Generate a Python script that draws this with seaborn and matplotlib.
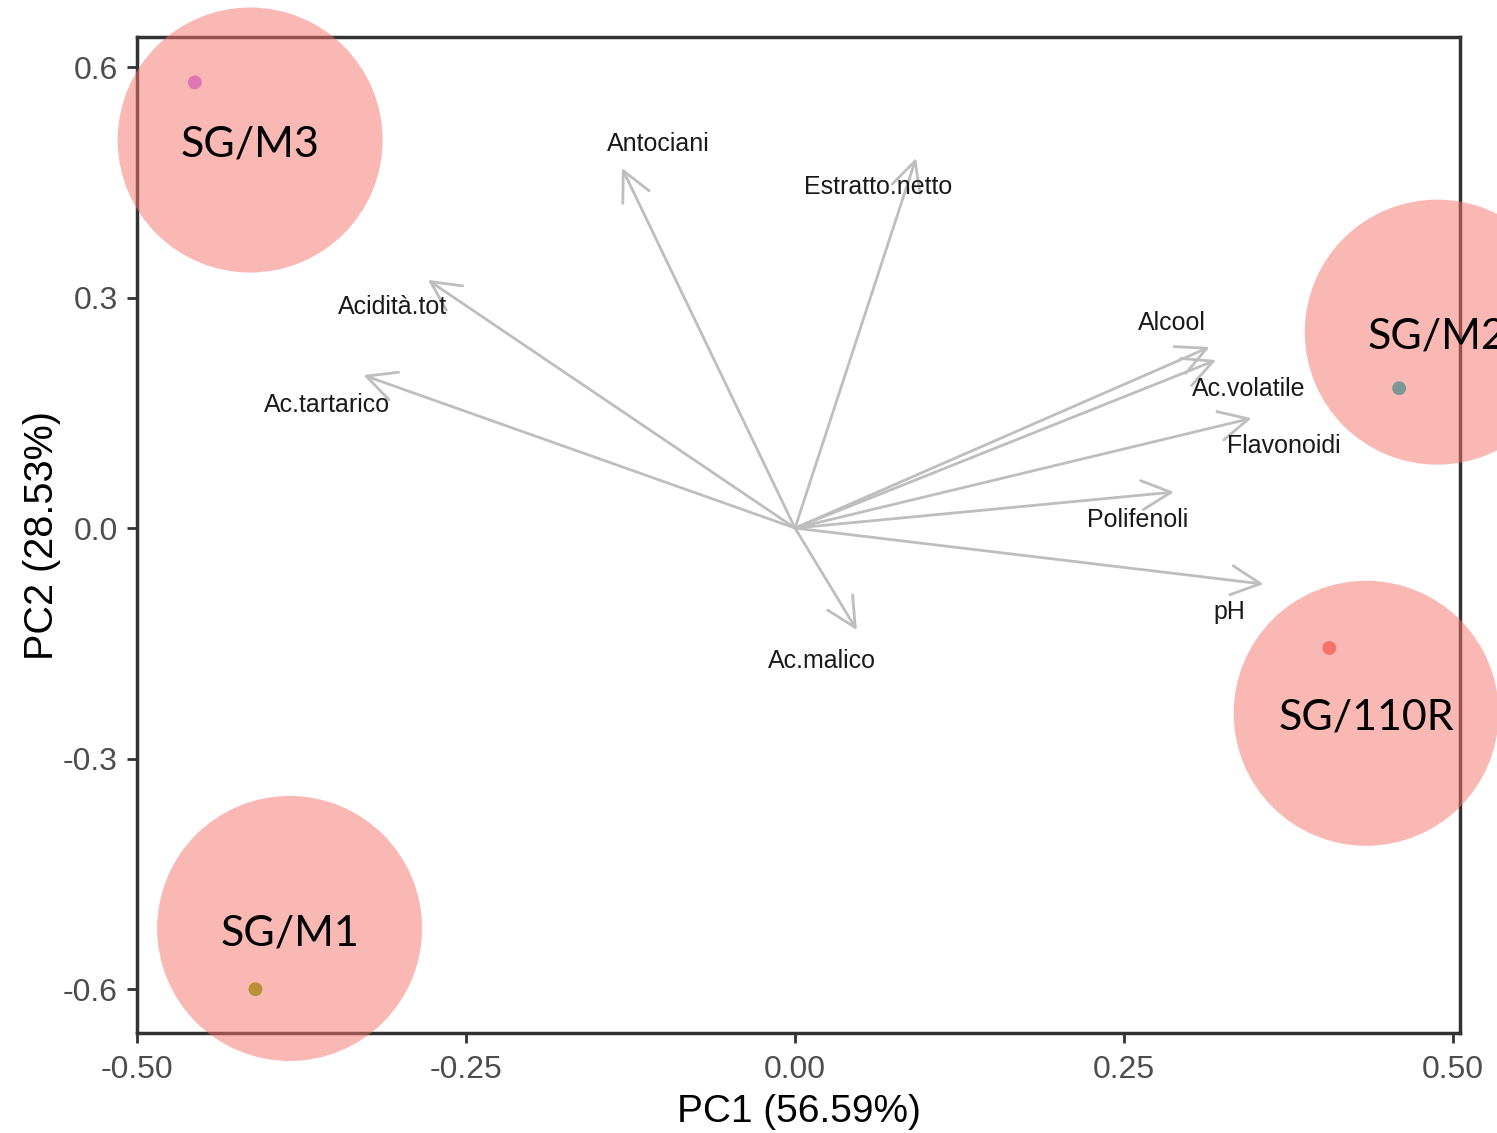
import numpy as np
import pandas as pd
import matplotlib
matplotlib.use("Agg")
import matplotlib.pyplot as plt
import seaborn as sns
from matplotlib.patches import Ellipse, FancyArrowPatch

# ---- data ----
groups = ["SG/110R", "SG/M1", "SG/M2", "SG/M3"]
pc1 = [0.406, -0.410, 0.459, -0.456]
pc2 = [-0.156, -0.600, 0.182, 0.580]
palette = ["#F8766D", "#7CAE00", "#00BFC4", "#C77CFF"]

variables = ["Antociani", "Estratto.netto", "Acidità.tot", "Ac.tartarico", "Alcool",
             "Ac.volatile", "Flavonoidi", "Polifenoli", "pH", "Ac.malico"]
load_x = [-0.1315, 0.092, -0.279, -0.328, 0.315, 0.320, 0.347, 0.288, 0.356, 0.047]
load_y = [0.4686, 0.4816, 0.323, 0.199, 0.2356, 0.2187, 0.143, 0.0469, -0.0729, -0.1328]
label_x = [-0.104, 0.063, -0.3055, -0.3556, 0.2865, 0.345, 0.3716, 0.2606, 0.330, 0.0205]
label_y = [0.500, 0.444, 0.2876, 0.160, 0.2668, 0.181, 0.1067, 0.0104, -0.109, -0.173]

circle_x = [0.434, -0.384, 0.488, -0.414]
circle_y = [-0.241, -0.521, 0.255, 0.505]

xticks = [-0.50, -0.25, 0.00, 0.25, 0.50]
xticklabels = ["-0.50", "-0.25", "0.00", "0.25", "0.50"]
yticks = [-0.6, -0.3, 0.0, 0.3, 0.6]
yticklabels = ["-0.6", "-0.3", "0.0", "0.3", "0.6"]
xlabel = "PC1 (56.59%)"
ylabel = "PC2 (28.53%)"

sns.set_theme(style="white")
plt.rcParams["font.family"] = ["Liberation Sans", "DejaVu Sans"]

fig = plt.figure(figsize=(14.97, 11.33), dpi=100)
ax = fig.add_axes([0.0915, 0.0883, 0.9753 - 0.0915, 0.9673 - 0.0883])

df = pd.DataFrame({"PC1": pc1, "PC2": pc2, "group": groups})
sns.scatterplot(data=df, x="PC1", y="PC2", hue="group", palette=palette,
                s=100, edgecolor="none", legend=False, ax=ax, zorder=3)

# loading arrows
for vx, vy in zip(load_x, load_y):
    arr = FancyArrowPatch((0, 0), (vx, vy),
                          arrowstyle="->,head_length=1.0,head_width=0.5",
                          mutation_scale=21, color="#BEBEBE", lw=2.0,
                          shrinkA=0, shrinkB=0, zorder=2)
    ax.add_patch(arr)
for name, lx, ly in zip(variables, label_x, label_y):
    ax.text(lx, ly, name, ha="center", va="center", fontsize=18,
            color="#1A1A1A", zorder=4)

ax.set_xlim(-0.5, 0.5053)
ax.set_ylim(-0.657, 0.639)
ax.set_xticks(xticks)
ax.set_xticklabels(xticklabels)
ax.set_yticks(yticks)
ax.set_yticklabels(yticklabels)
ax.tick_params(axis="both", which="both", direction="out", length=7, width=2,
               color="#333333", labelsize=23, labelcolor="#4D4D4D",
               bottom=True, left=True)
ax.tick_params(axis="x", pad=9)
ax.tick_params(axis="y", pad=7)
ax.set_xlabel(xlabel, fontsize=28, color="black", labelpad=6)
ax.set_ylabel(ylabel, fontsize=28.5, color="black", labelpad=1)
for sp in ax.spines.values():
    sp.set_visible(True)
    sp.set_color("#333333")
    sp.set_linewidth(2.5)
ax.grid(False)

# group highlight circles
rx = 132.5 / 1316 * 2
ry = 132.5 / 768.3 * 2
for g, cx, cy in zip(groups, circle_x, circle_y):
    e = Ellipse((cx, cy), rx, ry, facecolor=(0.97, 0.45, 0.42), alpha=0.5,
                edgecolor="none", clip_on=False, zorder=10)
    ax.add_patch(e)
    ax.text(cx, cy - 0.006, g, ha="center", va="center", fontsize=31, color="black",
            family=["Lato", "DejaVu Sans"], clip_on=False, zorder=11)

fig.savefig("out.png", dpi=100)
